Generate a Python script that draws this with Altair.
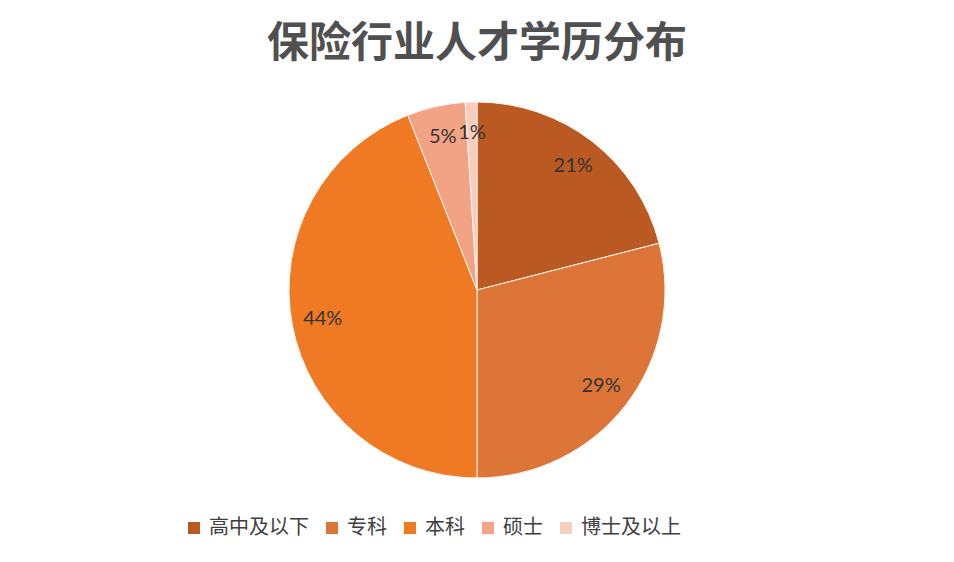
import altair as alt
import pandas as pd

categories = ["高中及以下", "专科", "本科", "硕士", "博士及以上"]
values = [21, 29, 44, 5, 1]
labels = ["21%", "29%", "44%", "5%", "1%"]
colors = ["#BA5A22", "#DE7538", "#F07A24", "#F2A386", "#F8CDBB"]

df = pd.DataFrame({
    "学历": categories,
    "占比": values,
    "标签": labels,
    "顺序": list(range(len(categories))),
})

base = alt.Chart(df).encode(
    theta=alt.Theta("占比:Q", stack=True),
    order=alt.Order("顺序:Q", sort="ascending"),
)

pie = base.mark_arc(radius=188, stroke="#fdf5f0", strokeWidth=1).encode(
    color=alt.Color(
        "学历:N",
        scale=alt.Scale(domain=categories, range=colors),
        sort=categories,
        legend=alt.Legend(
            title=None,
            orient="none",
            direction="horizontal",
            columns=5,
            legendX=176,
            legendY=440,
            symbolType="square",
            symbolSize=144,
            symbolStrokeWidth=0,
            labelFont="Noto Sans CJK SC",
            labelFontSize=20,
            labelColor="#404040",
            labelOffset=5,
            columnPadding=13,
            padding=0,
            labelLimit=200,
        ),
    )
)

text = base.mark_text(
    radius=157, font="Lato", fontSize=20, color="#333333"
).encode(text="标签:N")

chart = (
    (pie + text)
    .properties(
        width=938,
        height=424,
        autosize=alt.AutoSizeParams(type="none"),
        padding={"top": 70, "left": 0, "right": 0, "bottom": 60},
        title=alt.TitleParams(
            "保险行业人才学历分布",
            anchor="middle",
            frame="group",
            font="Noto Sans CJK SC",
            fontSize=42,
            fontWeight="bold",
            color="#505050",
            offset=12,
        ),
    )
    .configure_view(stroke=None)
    .configure(background="white")
)

chart.save("out.html", embed_options={"renderer": "svg", "actions": False})
